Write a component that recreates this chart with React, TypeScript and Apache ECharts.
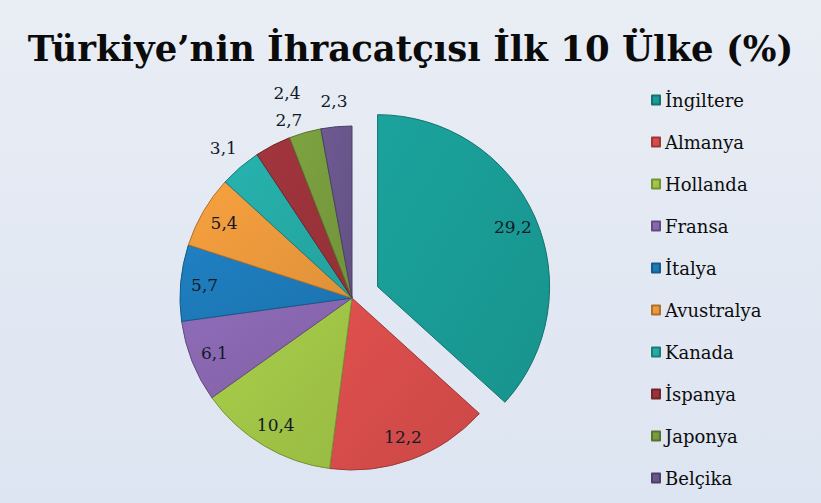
import React, { useEffect, useRef } from "react";
import * as echarts from "echarts";

const titleText = "Türkiye’nin İhracatçısı İlk 10 Ülke (%)";
const countries = ["İngiltere", "Almanya", "Hollanda", "Fransa", "İtalya", "Avustralya", "Kanada", "İspanya", "Japonya", "Belçika"];
const shares = [29.2, 12.2, 10.4, 6.1, 5.7, 5.4, 3.1, 2.7, 2.4, 2.3];
const colors = ["#1ba39d", "#e0504e", "#a9cf4a", "#8f6cb8", "#1f80c2", "#f8a13f", "#27b3ae", "#a3353d", "#7da340", "#6e5a92"];
const outsideLabels = ["Kanada", "İspanya", "Japonya", "Belçika"];
const labelOffsets: Record<string, number[]> = { "İspanya": [28, -2], "Japonya": [-11, -15] };

const fmt = (v: number) => v.toFixed(1).replace(".", ",");
const SERIF = "DejaVu Serif";

function darken(hex: string, f: number) {
  const n = parseInt(hex.slice(1), 16);
  const r = Math.round(((n >> 16) & 255) * f);
  const g = Math.round(((n >> 8) & 255) * f);
  const b = Math.round((n & 255) * f);
  return `rgb(${r},${g},${b})`;
}

export default function App() {
  const ref = useRef<HTMLDivElement>(null);
  useEffect(() => {
    document.body.style.margin = "0";
    const chart = echarts.init(ref.current!, null, { renderer: "svg" });
    const center = [352, 298];
    const labelFont = { fontFamily: SERIF, fontSize: 17, color: "#111a28" };
    const mainData = countries.map((name, i) => ({
      name,
      value: shares[i],
      selected: i === 0,
      itemStyle: {
        color: new echarts.graphic.LinearGradient(0, 0, 1, 1, [
          { offset: 0, color: colors[i] },
          { offset: 1, color: darken(colors[i], 0.9) },
        ]),
        borderColor: darken(colors[i], 0.7),
        borderWidth: 1,
      },
    }));
    const labelData = (outside: boolean) =>
      countries.map((name, i) => {
        const show = outsideLabels.includes(name) === outside;
        return {
          name,
          value: shares[i],
          selected: i === 0,
          label: { show, offset: labelOffsets[name] || [0, 0] },
        };
      });
    const overlay = (radius: number[], outside: boolean) => ({
      type: "pie",
      center,
      radius,
      startAngle: 90,
      clockwise: true,
      silent: true,
      selectedMode: "multiple",
      selectedOffset: 28,
      avoidLabelOverlap: false,
      itemStyle: { color: "rgba(0,0,0,0)", borderWidth: 0 },
      label: { position: "inside", formatter: (p: any) => fmt(p.value), ...labelFont },
      labelLine: { show: false },
      emphasis: { disabled: true },
      data: labelData(outside),
      z: 5,
    });
    chart.setOption({
      animation: false,
      backgroundColor: new echarts.graphic.LinearGradient(0, 0, 0, 1, [
        { offset: 0, color: "#e9edf4" },
        { offset: 1, color: "#dde5f2" },
      ]),
      title: {
        text: titleText,
        left: "center",
        top: 25,
        textStyle: { fontFamily: "DejaVu Serif", fontWeight: "bold", fontSize: 35.5, color: "#0b0b0b" },
      },
      legend: {
        orient: "vertical",
        left: 646,
        top: 85,
        itemWidth: 8,
        itemHeight: 9,
        itemGap: 22,
        icon: "rect",
        data: countries,
        selectedMode: false,
        textStyle: { fontFamily: SERIF, fontSize: 18, color: "#0d0d0d", lineHeight: 20 },
      },
      series: [
        {
          type: "pie",
          center,
          radius: 172,
          startAngle: 90,
          clockwise: true,
          selectedMode: "multiple",
          selectedOffset: 28,
          label: { show: false },
          labelLine: { show: false },
          emphasis: { disabled: true },
          data: mainData,
        },
        overlay([118, 172], false),
        overlay([172, 218], true),
      ],
    });
    return () => chart.dispose();
  }, []);
  return <div ref={ref} style={{ position: "absolute", left: 0, top: 0, width: 821, height: 503 }} />;
}
